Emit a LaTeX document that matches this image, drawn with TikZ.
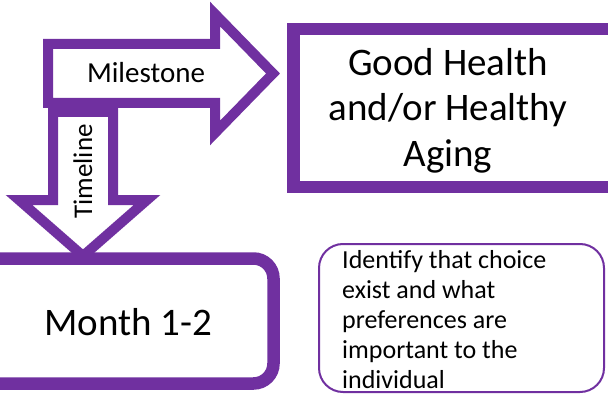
\documentclass[tikz,border=0pt]{standalone}
\usepackage{fontspec}
\setmainfont{Carlito}
\definecolor{vio}{HTML}{7030A0}
\begin{document}
\begin{tikzpicture}[x=1pt,y=-1pt,
  blockarrow/.style={draw=vio, line width=10pt, fill=white, line join=miter, miter limit=10},
  thickbox/.style={draw=vio, line width=12.5pt, fill=white},
  thinbox/.style={draw=vio, line width=2pt, fill=white, rounded corners=24pt},
  lbl/.style={inner sep=0pt, text=black}]
\useasboundingbox (0,0) rectangle (608,401);
\clip (0,0) rectangle (608,401);
% Milestone arrow
\draw[blockarrow] (48,44) -- (215,44) -- (215,14) -- (273,73.5) -- (215,133) -- (215,103) -- (48,103) -- cycle;
\node[lbl, anchor=base, font=\fontsize{29}{34}\selectfont] (milestone) at (146,83) {Milestone};
% Timeline arrow
\draw[blockarrow] (53,112) -- (113,112) -- (113,200) -- (147,200) -- (83,256) -- (19,200) -- (53,200) -- cycle;
\node[lbl, anchor=base, rotate=90, font=\fontsize{27}{32}\selectfont] (timeline) at (92,171.5) {Timeline};
% Month box
\draw[thickbox, rounded corners=20pt] (-40,258.5) rectangle (273.5,383.5);
\node[lbl, anchor=base, font=\fontsize{39}{46}\selectfont] (month) at (128.5,335) {Month 1-2};
% Good health box
\draw[thickbox] (293.5,29) rectangle (620,187);
\node[lbl, anchor=base, align=center, font=\fontsize{39}{46}\selectfont] (goal) at (448,167) {Good Health\\and/or Healthy\\Aging};
% Note box
\draw[thinbox] (319,244) rectangle (604,392);
\node[lbl, anchor=base west, align=left, font=\fontsize{26}{30}\selectfont] (note) at (342,388) {Identify that choice\\exist and what\\preferences are\\important to the\\individual};
\end{tikzpicture}
\end{document}
